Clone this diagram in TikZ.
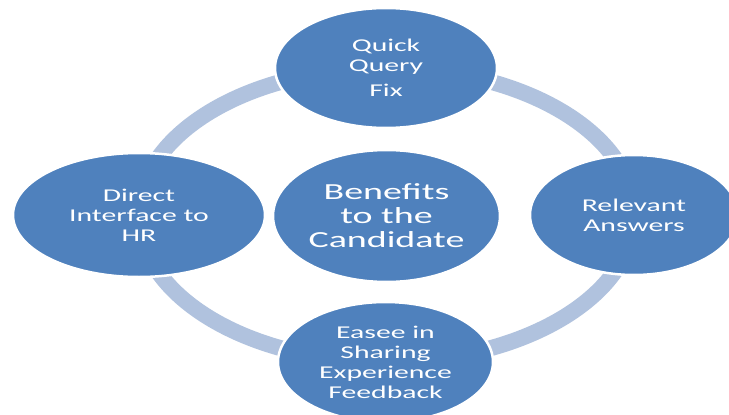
\documentclass[tikz,border=0pt]{standalone}
\usepackage{fontspec}
\usetikzlibrary{shapes.geometric}
\newfontfamily\blobfont[FakeStretch=1.65]{Carlito}
\definecolor{blobblue}{HTML}{4F81BD}
\definecolor{ringblue}{HTML}{B0C2DE}
\pgfdeclarelayer{paper}
\pgfdeclarelayer{ringlayer}
\pgfsetlayers{paper,ringlayer,main}
\tikzset{
  blob/.style={ellipse, fill=blobblue, draw=white, line width=2.5pt,
    inner sep=0pt, align=center, text=white,
    font=\blobfont\fontsize{18}{20}\selectfont},
  hub/.style={blob, font=\blobfont\fontsize{23}{24}\selectfont},
  ring/.style={draw=ringblue, line width=16pt}
}
\begin{document}
\begin{tikzpicture}[x=1pt,y=-1pt]
\clip (0,0) rectangle (729,415);
\begin{pgfonlayer}{paper}
\fill[white] (0,0) rectangle (729,415);
\end{pgfonlayer}

\node[blob, minimum width=222pt, minimum height=120pt] (fix) at (386,68)
  {Quick\\Query\\[5pt]Fix};
\node[blob, minimum width=252pt, minimum height=124pt] (hr) at (139,215)
  {Direct\\Interface to\\HR};
\node[hub, minimum width=227pt, minimum height=132pt] (hub) at (386.5,216)
  {Benefits\\to the\\Candidate};
\node[blob, minimum width=208pt, minimum height=120pt] (ans) at (634,215)
  {Relevant\\Answers};
\node[blob, minimum width=215pt, minimum height=120pt] (share) at (385.5,362)
  {Easee in\\Sharing\\Experience\\Feedback};

% cycle band joining the four outer topics
\begin{pgfonlayer}{ringlayer}
\draw[ring] (fix.center) .. controls +(137,0) and +(0,-81) .. (ans.center);
\draw[ring] (ans.center) .. controls +(0,81) and +(137,0) .. (share.center);
\draw[ring] (share.center) .. controls +(-137,0) and +(0,81) .. (hr.center);
\draw[ring] (hr.center) .. controls +(0,-81) and +(-137,0) .. (fix.center);
\end{pgfonlayer}
\end{tikzpicture}
\end{document}
